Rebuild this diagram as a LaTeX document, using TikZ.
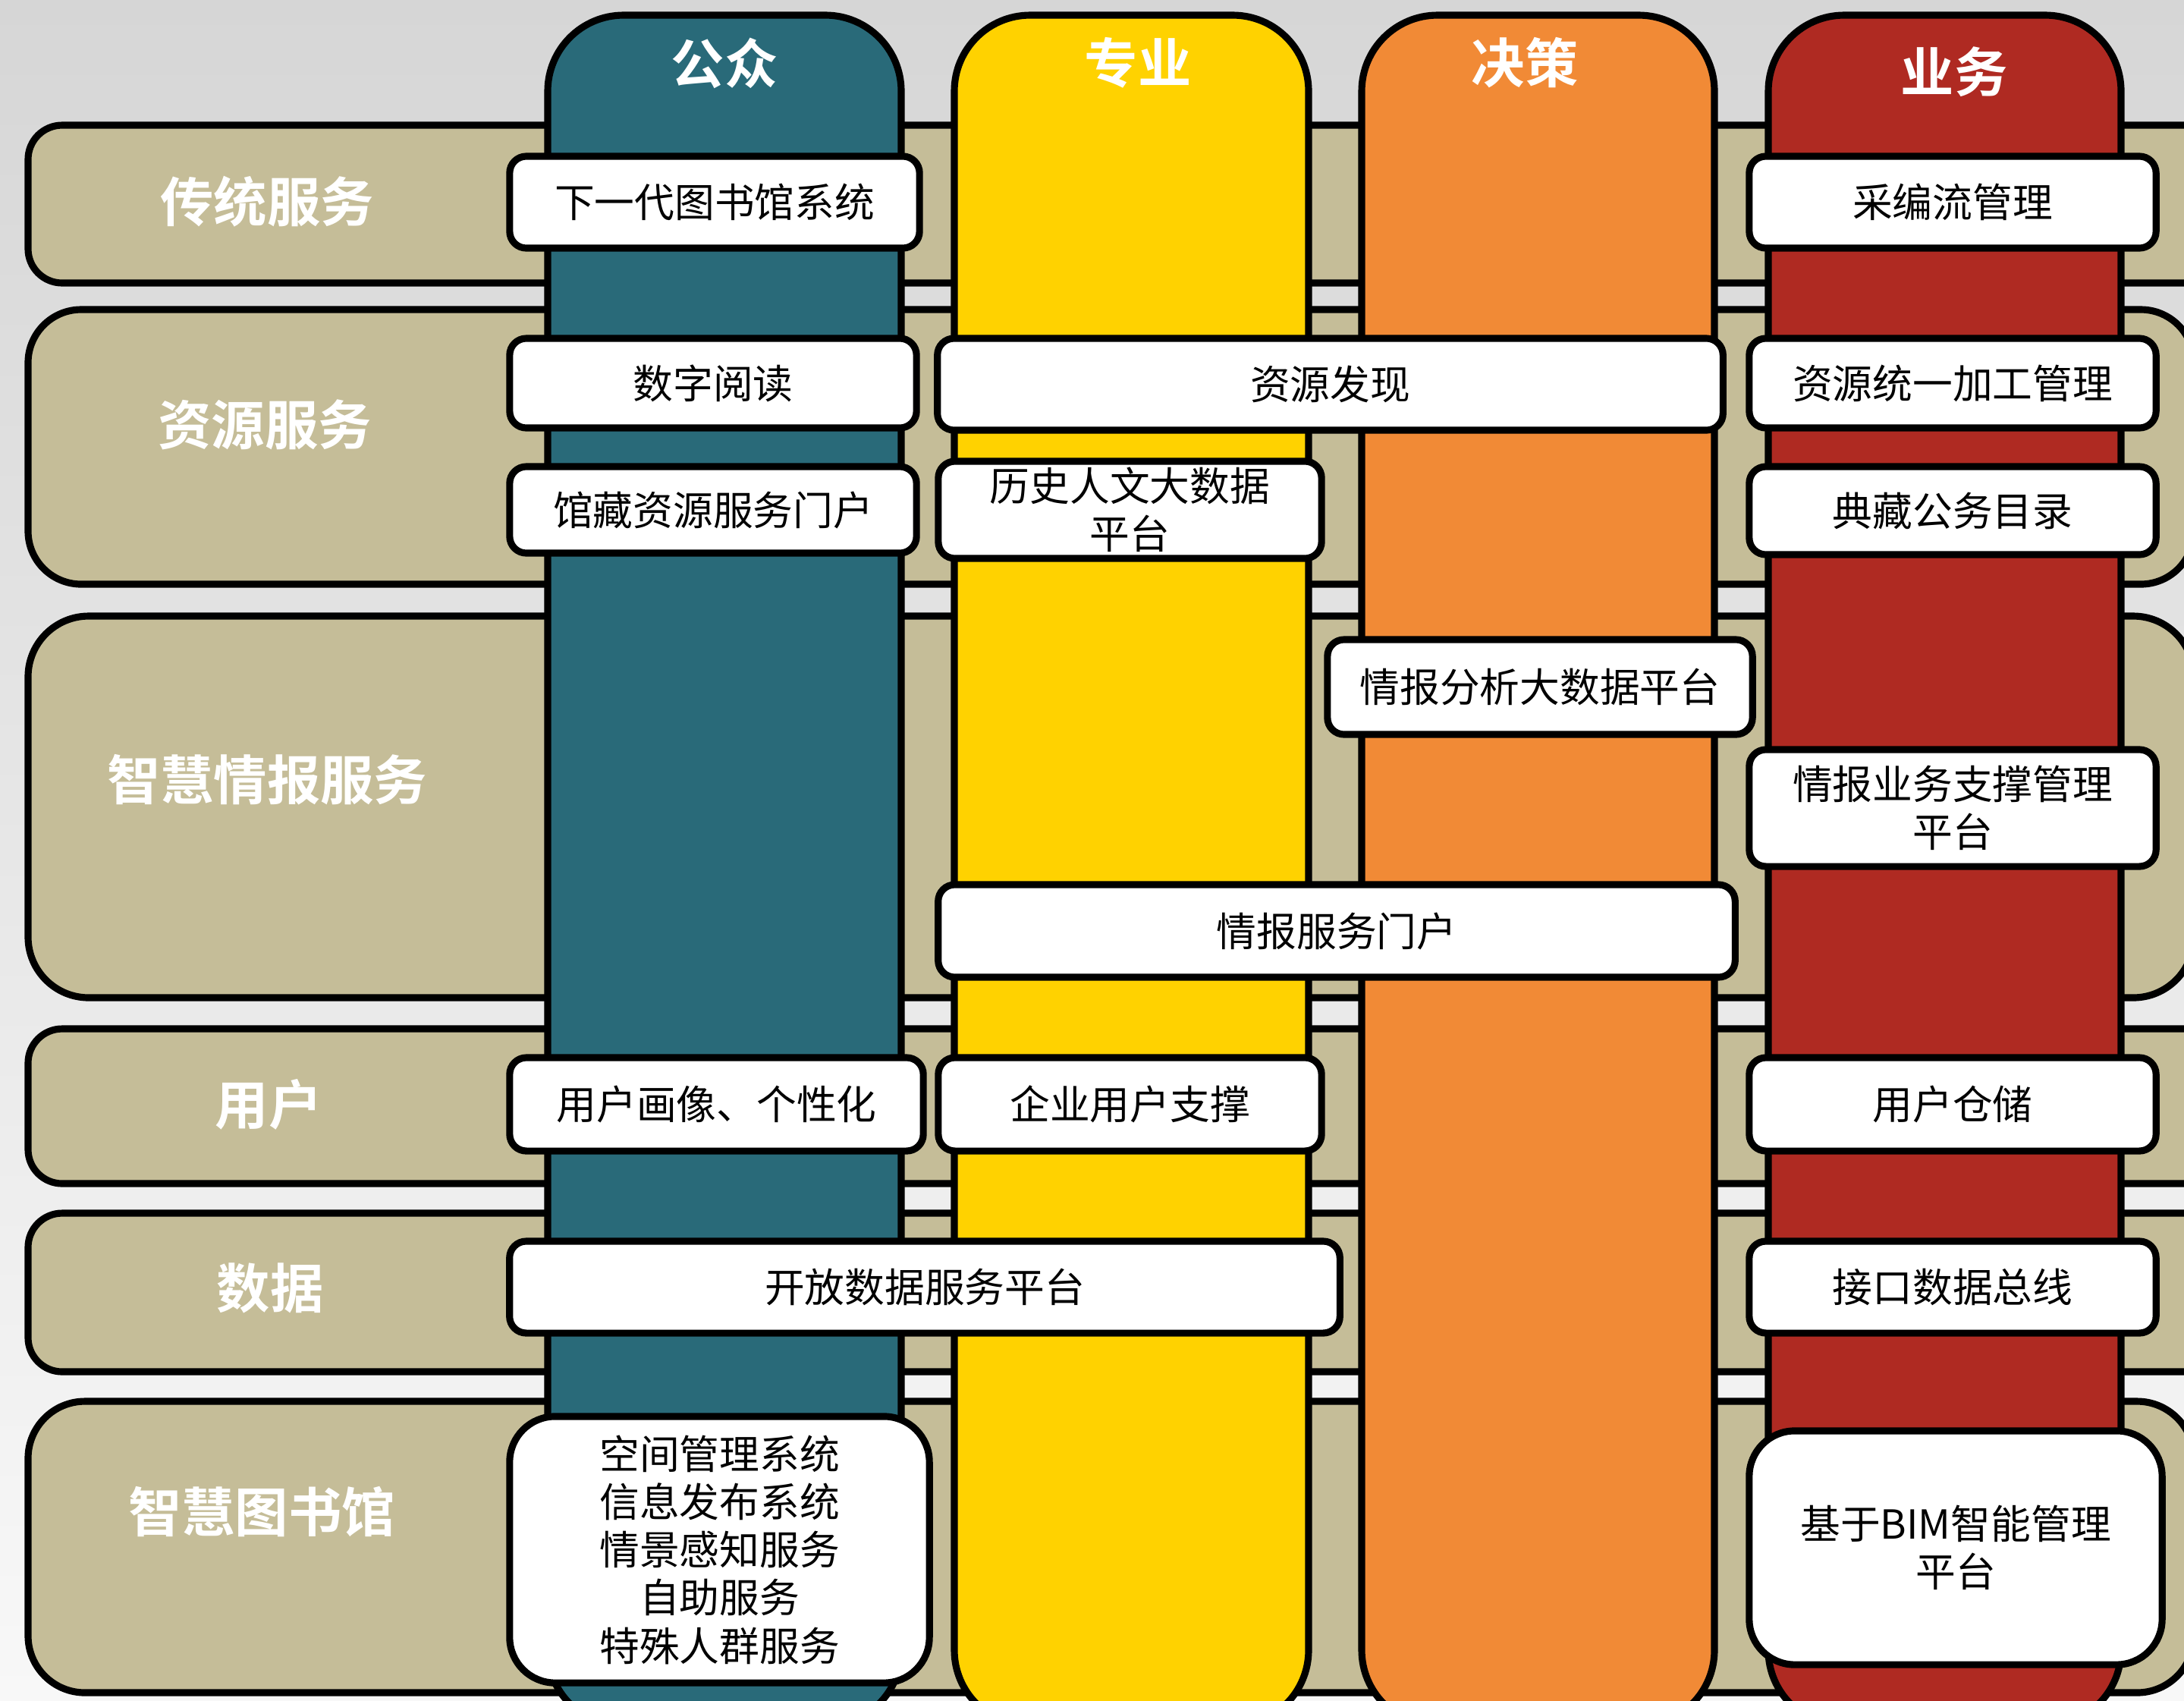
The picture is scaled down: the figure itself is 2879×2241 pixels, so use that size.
\documentclass[tikz,border=0pt]{standalone}
\usepackage{fontspec}
\newfontfamily\cjk{Noto Sans CJK SC}[BoldFont={Noto Sans CJK SC Bold}]
\definecolor{colteal}{RGB}{41,106,121}
\definecolor{colyel}{RGB}{255,210,0}
\definecolor{colora}{RGB}{241,138,54}
\definecolor{colred}{RGB}{175,42,34}
\definecolor{coltan}{RGB}{197,189,152}
\definecolor{bgtop}{RGB}{214,214,214}
\definecolor{bgmid}{RGB}{236,236,236}
\definecolor{bgbot}{RGB}{248,248,248}
\begin{document}
\begin{tikzpicture}[x=0.01cm,y=-0.01cm,
  band/.style={draw=black, line width=2.6pt, fill=coltan},
  colbar/.style={draw=black, line width=2.6pt, rounded corners=1cm},
  wbox/.style={draw=black, line width=2.6pt, fill=white, rounded corners=0.22cm,
    align=center, inner sep=0pt, text=black,
    font=\cjk\fontsize{15}{18}\selectfont},
  hdr/.style={text=white, font=\cjk\bfseries\fontsize{20}{22}\selectfont, inner sep=0pt},
  lbl/.style={text=white, font=\cjk\bfseries\fontsize{20}{22}\selectfont, inner sep=0pt}]
\useasboundingbox (0,0) rectangle (2879,2241);
\begin{scope}
\clip (0,0) rectangle (2879,2241);
\shade[top color=bgtop, middle color=bgmid, bottom color=bgbot] (0,0) rectangle (2879,2241);
% row bands
\draw[band, rounded corners=0.45cm] (37,165) rectangle (2950,373);
\draw[band, rounded corners=0.7cm] (37,408) rectangle (2892,770);
\draw[band, rounded corners=0.8cm] (37,812) rectangle (2892,1315);
\draw[band, rounded corners=0.45cm] (37,1356) rectangle (2950,1560);
\draw[band, rounded corners=0.45cm] (37,1599) rectangle (2950,1808);
\draw[band, rounded corners=0.75cm] (37,1847) rectangle (2892,2231);
% columns
\draw[colbar, fill=colteal] (722,20) rectangle (1188,2275);
\draw[colbar, fill=colyel] (1258,20) rectangle (1725,2275);
\draw[colbar, fill=colora] (1795,20) rectangle (2260,2275);
\draw[colbar, fill=colred] (2331,20) rectangle (2796,2275);
\end{scope}
% column headers
\node[hdr] (h1) at (955,83) {公众};
\node[hdr] (h2) at (1500,83) {专业};
\node[hdr] (h3) at (2010,83) {决策};
\node[hdr] (h4) at (2576,95) {业务};
% row labels
\node[lbl] (r1) at (352,266) {传统服务};
\node[lbl] (r2) at (349,560) {资源服务};
\node[lbl] (r3) at (352,1028) {智慧情报服务};
\node[lbl] (r4) at (354,1456) {用户};
\node[lbl] (r5) at (356,1698) {数据};
\node[lbl] (r6) at (345,1992) {智慧图书馆};
% white boxes
\node[wbox, minimum width=5.40cm, minimum height=1.21cm] (b1) at (942,266.5) {下一代图书馆系统};
\node[wbox, minimum width=5.36cm, minimum height=1.21cm] (b2) at (2574,266.5) {采编流管理};
\node[wbox, minimum width=5.36cm, minimum height=1.18cm] (b3) at (940,505) {数字阅读};
\node[wbox, minimum width=10.35cm, minimum height=1.21cm] (b4) at (1753.5,506.5) {资源发现};
\node[wbox, minimum width=5.36cm, minimum height=1.18cm] (b5) at (2574,505) {资源统一加工管理};
\node[wbox, minimum width=5.36cm, minimum height=1.14cm] (b6) at (940,672) {馆藏资源服务门户};
\node[wbox, minimum width=5.05cm, minimum height=1.28cm] (b7) at (1489.5,672) {历史人文大数据\\平台};
\node[wbox, minimum width=5.36cm, minimum height=1.16cm] (b8) at (2574,673) {典藏公务目录};
\node[wbox, minimum width=5.60cm, minimum height=1.25cm] (b9) at (2030,905.5) {情报分析大数据平台};
\node[wbox, minimum width=5.36cm, minimum height=1.54cm] (b10) at (2574,1065) {情报业务支撑管理\\平台};
\node[wbox, minimum width=10.50cm, minimum height=1.22cm] (b11) at (1762,1227) {情报服务门户};
\node[wbox, minimum width=5.45cm, minimum height=1.23cm] (b12) at (944.5,1455.5) {用户画像、个性化};
\node[wbox, minimum width=5.05cm, minimum height=1.23cm] (b13) at (1489.5,1455.5) {企业用户支撑};
\node[wbox, minimum width=5.36cm, minimum height=1.23cm] (b14) at (2574,1455.5) {用户仓储};
\node[wbox, minimum width=10.94cm, minimum height=1.21cm] (b15) at (1219,1696.5) {开放数据服务平台};
\node[wbox, minimum width=5.36cm, minimum height=1.21cm] (b16) at (2574,1696.5) {接口数据总线};
\node[wbox, rounded corners=0.6cm, minimum width=5.53cm, minimum height=3.51cm] (b17) at (948.5,2042.5) {空间管理系统\\信息发布系统\\情景感知服务\\自助服务\\特殊人群服务};
\node[wbox, rounded corners=0.6cm, minimum width=5.44cm, minimum height=3.08cm] (b18) at (2578,2040) {基于BIM智能管理\\平台};
\end{tikzpicture}
\end{document}
